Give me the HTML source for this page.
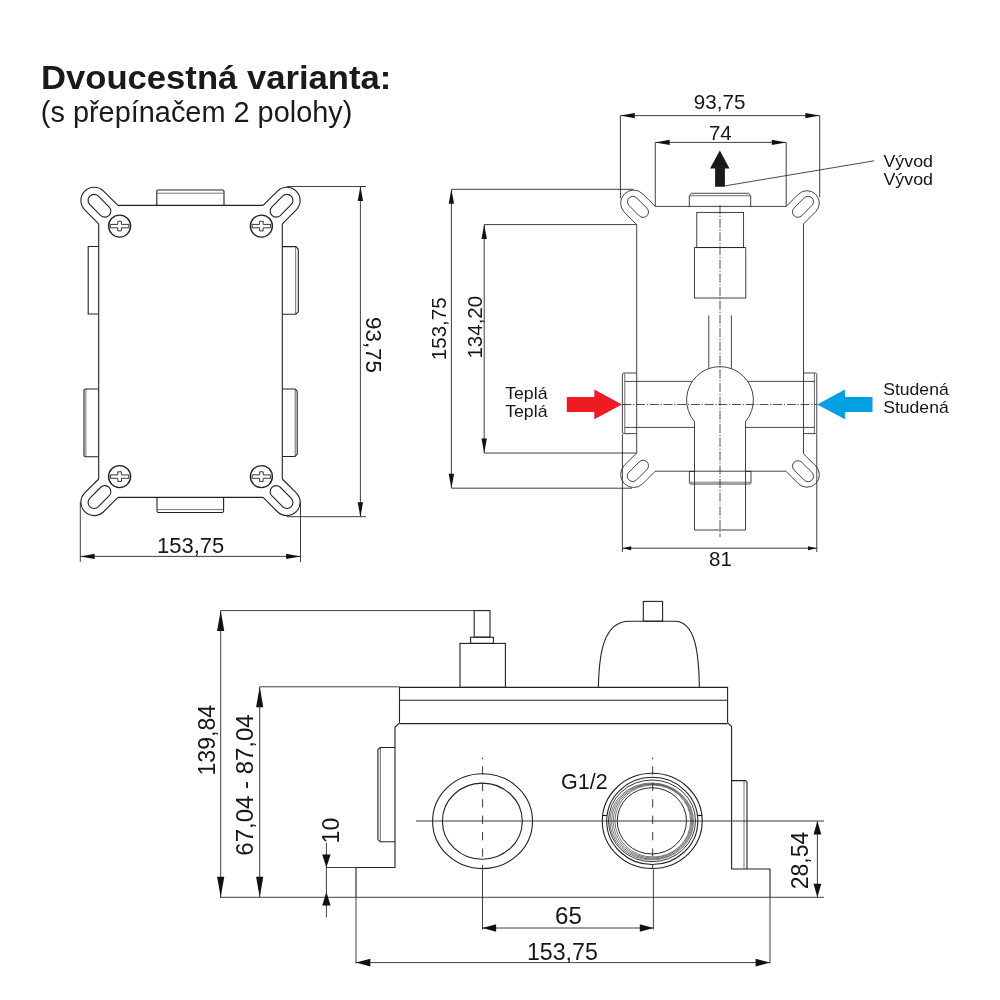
<!DOCTYPE html>
<html><head><meta charset="utf-8"><style>html,body{margin:0;padding:0;background:#fff}svg{display:block;will-change:transform}text{font-family:"Liberation Sans",sans-serif}</style></head><body><svg width="1000" height="1000" viewBox="0 0 1000 1000"><rect width="1000" height="1000" fill="#fff"/><path d="M117.91,205.40 L103.30,190.80 A13.3,13.3 0 0 0 84.50,209.60 L98.70,223.81" stroke="#222" stroke-width="1.1" fill="none" />
<path d="M98.14,195.96 A6.0,6.0 0 0 0 89.66,204.44 L100.76,215.54 A6.0,6.0 0 0 0 109.24,207.06 Z" stroke="#222" stroke-width="1.1" fill="none" />
<path d="M263.09,205.40 L277.70,190.80 A13.3,13.3 0 0 1 296.50,209.60 L282.30,223.81" stroke="#222" stroke-width="1.1" fill="none" />
<path d="M282.86,195.96 A6.0,6.0 0 0 1 291.34,204.44 L280.24,215.54 A6.0,6.0 0 0 1 271.76,207.06 Z" stroke="#222" stroke-width="1.1" fill="none" />
<path d="M117.91,497.40 L103.30,512.00 A13.3,13.3 0 0 1 84.50,493.20 L98.70,478.99" stroke="#222" stroke-width="1.1" fill="none" />
<path d="M98.14,506.84 A6.0,6.0 0 0 1 89.66,498.36 L100.76,487.26 A6.0,6.0 0 0 1 109.24,495.74 Z" stroke="#222" stroke-width="1.1" fill="none" />
<path d="M263.09,497.40 L277.70,512.00 A13.3,13.3 0 0 0 296.50,493.20 L282.30,478.99" stroke="#222" stroke-width="1.1" fill="none" />
<path d="M282.86,506.84 A6.0,6.0 0 0 0 291.34,498.36 L280.24,487.26 A6.0,6.0 0 0 0 271.76,495.74 Z" stroke="#222" stroke-width="1.1" fill="none" />
<line x1="117.91" y1="205.40" x2="263.09" y2="205.40" stroke="#222" stroke-width="1.1" />
<line x1="117.91" y1="497.40" x2="263.09" y2="497.40" stroke="#222" stroke-width="1.1" />
<line x1="98.70" y1="223.81" x2="98.70" y2="478.99" stroke="#222" stroke-width="1.1" />
<line x1="282.30" y1="223.81" x2="282.30" y2="478.99" stroke="#222" stroke-width="1.1" />
<path d="M156.8,205.4 L156.8,191.5 Q156.8,190 158.3,190 L222.5,190 Q224,190 224,191.5 L224,205.4" stroke="#222" stroke-width="1.1" fill="none" />
<line x1="157.20" y1="193.20" x2="223.60" y2="193.20" stroke="#555" stroke-width="0.8" />
<path d="M157,497.3 L157,511 Q157,512.5 158.5,512.5 L222.1,512.5 Q223.6,512.5 223.6,511 L223.6,497.3" stroke="#222" stroke-width="1.1" fill="none" />
<line x1="157.40" y1="509.60" x2="223.20" y2="509.60" stroke="#555" stroke-width="0.8" />
<path d="M98.6,246.5 L88.2,246.5 L88.2,314 L98.6,314" stroke="#222" stroke-width="1.1" fill="none" />
<path d="M98.6,389 L85.5,389 Q84,389 84,390.5 L84,455.3 Q84,456.8 85.5,456.8 L98.6,456.8" stroke="#222" stroke-width="1.1" fill="none" />
<line x1="85.90" y1="389.40" x2="85.90" y2="456.40" stroke="#555" stroke-width="0.8" />
<path d="M282.3,246.6 L295.8,246.6 L298.3,249 L298.3,311.8 L295.8,314.2 L282.3,314.2" stroke="#222" stroke-width="1.1" fill="none" />
<line x1="295.70" y1="247.00" x2="295.70" y2="313.80" stroke="#444" stroke-width="0.8" />
<path d="M282.3,389 L295,389 L297.2,391.2 L297.2,454.3 L295,456.5 L282.3,456.5" stroke="#222" stroke-width="1.1" fill="none" />
<line x1="295.20" y1="389.40" x2="295.20" y2="456.10" stroke="#444" stroke-width="0.8" />
<circle cx="119.6" cy="226.1" r="11" stroke="#222" stroke-width="1.4" fill="none"/>
<path d="M110.39999999999999,224.4 L117.8,224.4 L117.8,221.29999999999998 L121.39999999999999,221.29999999999998 L121.39999999999999,224.4 L128.79999999999998,224.4 L128.79999999999998,227.79999999999998 L121.39999999999999,227.79999999999998 L121.39999999999999,230.9 L117.8,230.9 L117.8,227.79999999999998 L110.39999999999999,227.79999999999998 Z" stroke="#222" stroke-width="0.9" fill="none" />
<circle cx="119.6" cy="476.6" r="11" stroke="#222" stroke-width="1.4" fill="none"/>
<path d="M110.39999999999999,474.90000000000003 L117.8,474.90000000000003 L117.8,471.8 L121.39999999999999,471.8 L121.39999999999999,474.90000000000003 L128.79999999999998,474.90000000000003 L128.79999999999998,478.3 L121.39999999999999,478.3 L121.39999999999999,481.40000000000003 L117.8,481.40000000000003 L117.8,478.3 L110.39999999999999,478.3 Z" stroke="#222" stroke-width="0.9" fill="none" />
<circle cx="261.4" cy="226.1" r="11" stroke="#222" stroke-width="1.4" fill="none"/>
<path d="M252.2,224.4 L259.59999999999997,224.4 L259.59999999999997,221.29999999999998 L263.2,221.29999999999998 L263.2,224.4 L270.59999999999997,224.4 L270.59999999999997,227.79999999999998 L263.2,227.79999999999998 L263.2,230.9 L259.59999999999997,230.9 L259.59999999999997,227.79999999999998 L252.2,227.79999999999998 Z" stroke="#222" stroke-width="0.9" fill="none" />
<circle cx="261.4" cy="476.6" r="11" stroke="#222" stroke-width="1.4" fill="none"/>
<path d="M252.2,474.90000000000003 L259.59999999999997,474.90000000000003 L259.59999999999997,471.8 L263.2,471.8 L263.2,474.90000000000003 L270.59999999999997,474.90000000000003 L270.59999999999997,478.3 L263.2,478.3 L263.2,481.40000000000003 L259.59999999999997,481.40000000000003 L259.59999999999997,478.3 L252.2,478.3 Z" stroke="#222" stroke-width="0.9" fill="none" />
<line x1="287.00" y1="186.50" x2="366.00" y2="186.50" stroke="#2a2a2a" stroke-width="0.9" />
<line x1="287.00" y1="516.70" x2="366.00" y2="516.70" stroke="#2a2a2a" stroke-width="0.9" />
<line x1="360.40" y1="186.50" x2="360.40" y2="516.70" stroke="#2a2a2a" stroke-width="0.9" />
<polygon points="360.40,186.50 357.70,200.90 363.10,200.90" fill="#111"/>
<polygon points="360.40,516.70 357.70,502.30 363.10,502.30" fill="#111"/>
<text x="366.40" y="345.00" font-size="22.8" text-anchor="middle" font-weight="normal" fill="#161616" transform="rotate(90 366.40 345.00)" textLength="56.05" lengthAdjust="spacingAndGlyphs">93,75</text>
<line x1="80.30" y1="502.00" x2="80.30" y2="562.00" stroke="#2a2a2a" stroke-width="0.9" />
<line x1="300.50" y1="502.00" x2="300.50" y2="562.00" stroke="#2a2a2a" stroke-width="0.9" />
<line x1="80.30" y1="556.40" x2="300.50" y2="556.40" stroke="#2a2a2a" stroke-width="0.9" />
<polygon points="80.30,556.40 94.70,553.70 94.70,559.10" fill="#111"/>
<polygon points="300.50,556.40 286.10,553.70 286.10,559.10" fill="#111"/>
<text x="190.60" y="553.30" font-size="22.5" text-anchor="middle" font-weight="normal" fill="#161616" textLength="67.29" lengthAdjust="spacingAndGlyphs">153,75</text>
<path d="M655.28,206.40 L642.59,193.71 A13.0,13.0 0 0 0 624.21,212.09 L636.70,224.58" stroke="#222" stroke-width="0.85" fill="none" />
<path d="M636.72,197.98 A5.4,5.4 0 0 0 629.08,205.62 L639.28,215.82 A5.4,5.4 0 0 0 646.92,208.18 Z" stroke="#222" stroke-width="0.85" fill="none" />
<path d="M786.21,206.40 L798.30,194.30 A12.3,12.3 0 0 1 815.70,211.70 L803.50,223.89" stroke="#222" stroke-width="0.85" fill="none" />
<path d="M804.28,197.88 A5.4,5.4 0 0 1 811.92,205.52 L801.72,215.72 A5.4,5.4 0 0 1 794.08,208.08 Z" stroke="#222" stroke-width="0.85" fill="none" />
<path d="M655.28,471.20 L642.59,483.89 A13.0,13.0 0 0 1 624.21,465.51 L636.70,453.02" stroke="#222" stroke-width="0.85" fill="none" />
<path d="M636.52,479.92 A5.4,5.4 0 0 1 628.88,472.28 L639.28,461.88 A5.4,5.4 0 0 1 646.92,469.52 Z" stroke="#222" stroke-width="0.85" fill="none" />
<path d="M785.86,471.20 L798.23,483.57 A12.4,12.4 0 0 0 815.77,466.03 L803.50,453.76" stroke="#222" stroke-width="0.85" fill="none" />
<path d="M804.28,480.12 A5.4,5.4 0 0 0 811.92,472.48 L801.72,462.28 A5.4,5.4 0 0 0 794.08,469.92 Z" stroke="#222" stroke-width="0.85" fill="none" />
<line x1="655.28" y1="206.40" x2="786.21" y2="206.40" stroke="#222" stroke-width="0.85" />
<line x1="655.28" y1="471.20" x2="785.86" y2="471.20" stroke="#222" stroke-width="0.85" />
<line x1="636.70" y1="224.58" x2="636.70" y2="453.02" stroke="#222" stroke-width="0.85" />
<line x1="803.50" y1="223.89" x2="803.50" y2="453.76" stroke="#222" stroke-width="0.85" />
<path d="M689.3,206.4 L689.3,195.4 L691.5,193.3 L748.5,193.3 L750.7,195.4 L750.7,206.4" stroke="#222" stroke-width="0.85" fill="none" />
<line x1="689.80" y1="195.70" x2="750.20" y2="195.70" stroke="#444" stroke-width="0.8" />
<rect x="696.80" y="212.40" width="46.80" height="35.20" rx="0" stroke="#222" stroke-width="0.85" fill="none"/>
<rect x="694.40" y="247.60" width="51.40" height="50.40" rx="0" stroke="#222" stroke-width="0.85" fill="none"/>
<line x1="708.80" y1="315.50" x2="708.80" y2="368.50" stroke="#222" stroke-width="0.85" />
<line x1="731.40" y1="315.50" x2="731.40" y2="368.50" stroke="#222" stroke-width="0.85" />
<path d="M636.5,373 L624,373 Q622.4,373 622.4,374.6 L622.4,432 Q622.4,433.6 624,433.6 L636.5,433.6" stroke="#222" stroke-width="0.85" fill="none" />
<line x1="624.80" y1="373.40" x2="624.80" y2="433.20" stroke="#444" stroke-width="0.8" />
<path d="M803.4,373 L815.2,373 Q816.8,373 816.8,374.6 L816.8,432 Q816.8,433.6 815.2,433.6 L803.4,433.6" stroke="#222" stroke-width="0.85" fill="none" />
<line x1="814.40" y1="373.40" x2="814.40" y2="433.20" stroke="#444" stroke-width="0.8" />
<line x1="624.80" y1="381.40" x2="692.26" y2="381.40" stroke="#333" stroke-width="0.9" />
<line x1="747.74" y1="381.40" x2="814.40" y2="381.40" stroke="#333" stroke-width="0.9" />
<line x1="624.80" y1="427.40" x2="694.60" y2="427.40" stroke="#333" stroke-width="0.9" />
<line x1="745.60" y1="427.40" x2="814.40" y2="427.40" stroke="#333" stroke-width="0.9" />
<path d="M694.5,530 L694.5,421.57 A33.4,33.4 0 1 1 745.5,421.57 L745.5,530 Z" stroke="#222" stroke-width="0.85" fill="none" />
<path d="M694.5,471.4 L689.4,471.4 L689.4,482.5 Q689.4,484 690.9,484 L749.5,484 Q751,484 751,482.5 L751,471.4 L745.5,471.4" stroke="#222" stroke-width="0.85" fill="none" />
<line x1="689.80" y1="482.20" x2="750.60" y2="482.20" stroke="#555" stroke-width="0.8" />
<line x1="720.00" y1="205.00" x2="720.00" y2="537.00" stroke="#222" stroke-width="0.8" stroke-dasharray="9 1.7 1.3 1.7"/>
<line x1="622.40" y1="404.50" x2="816.80" y2="404.50" stroke="#222" stroke-width="0.8" stroke-dasharray="9 1.7 1.3 1.7"/>
<line x1="620.40" y1="115.60" x2="819.70" y2="115.60" stroke="#2a2a2a" stroke-width="0.9" />
<polygon points="620.40,115.60 634.80,112.90 634.80,118.30" fill="#111"/>
<polygon points="819.70,115.60 805.30,112.90 805.30,118.30" fill="#111"/>
<line x1="620.40" y1="115.60" x2="620.40" y2="198.00" stroke="#2a2a2a" stroke-width="0.9" />
<line x1="819.70" y1="115.60" x2="819.70" y2="197.00" stroke="#2a2a2a" stroke-width="0.9" />
<line x1="655.28" y1="142.40" x2="786.21" y2="142.40" stroke="#2a2a2a" stroke-width="0.9" />
<polygon points="655.28,142.40 669.68,139.70 669.68,145.10" fill="#111"/>
<polygon points="786.21,142.40 771.81,139.70 771.81,145.10" fill="#111"/>
<line x1="655.28" y1="142.40" x2="655.28" y2="206.40" stroke="#2a2a2a" stroke-width="0.9" />
<line x1="786.21" y1="142.40" x2="786.21" y2="206.40" stroke="#2a2a2a" stroke-width="0.9" />
<text x="719.60" y="109.30" font-size="21" text-anchor="middle" font-weight="normal" fill="#161616" textLength="51.55" lengthAdjust="spacingAndGlyphs">93,75</text>
<text x="720.30" y="139.50" font-size="21" text-anchor="middle" font-weight="normal" fill="#161616" textLength="22.8" lengthAdjust="spacingAndGlyphs">74</text>
<polygon points="719.8,150.6 729.5,168.6 724.9,168.6 724.9,186.7 715.1,186.7 715.1,168.6 710,168.6" fill="#1a1a1a"/>
<line x1="724.90" y1="185.90" x2="874.20" y2="160.80" stroke="#2a2a2a" stroke-width="0.85" />
<line x1="451.40" y1="189.30" x2="633.50" y2="189.30" stroke="#2a2a2a" stroke-width="0.9" />
<line x1="451.40" y1="488.20" x2="632.00" y2="488.20" stroke="#2a2a2a" stroke-width="0.9" />
<line x1="451.40" y1="189.30" x2="451.40" y2="488.20" stroke="#2a2a2a" stroke-width="0.9" />
<polygon points="451.40,189.30 448.70,203.70 454.10,203.70" fill="#111"/>
<polygon points="451.40,488.20 448.70,473.80 454.10,473.80" fill="#111"/>
<line x1="484.20" y1="224.58" x2="636.50" y2="224.58" stroke="#2a2a2a" stroke-width="0.9" />
<line x1="484.20" y1="453.02" x2="636.50" y2="453.02" stroke="#2a2a2a" stroke-width="0.9" />
<line x1="484.20" y1="224.58" x2="484.20" y2="453.02" stroke="#2a2a2a" stroke-width="0.9" />
<polygon points="484.20,224.58 481.50,238.98 486.90,238.98" fill="#111"/>
<polygon points="484.20,453.02 481.50,438.62 486.90,438.62" fill="#111"/>
<text x="445.70" y="328.80" font-size="21" text-anchor="middle" font-weight="normal" fill="#161616" transform="rotate(-90 445.70 328.80)" textLength="62.7" lengthAdjust="spacingAndGlyphs">153,75</text>
<text x="481.70" y="327.20" font-size="21" text-anchor="middle" font-weight="normal" fill="#161616" transform="rotate(-90 481.70 327.20)" textLength="62.7" lengthAdjust="spacingAndGlyphs">134,20</text>
<line x1="622.40" y1="434.50" x2="622.40" y2="552.00" stroke="#2a2a2a" stroke-width="0.9" />
<line x1="816.80" y1="433.60" x2="816.80" y2="552.00" stroke="#2a2a2a" stroke-width="0.9" />
<line x1="622.40" y1="548.20" x2="816.80" y2="548.20" stroke="#2a2a2a" stroke-width="0.9" />
<polygon points="622.40,548.20 631.20,546.20 631.20,550.20" fill="#111"/>
<polygon points="816.80,548.20 808.00,546.20 808.00,550.20" fill="#111"/>
<text x="720.40" y="565.80" font-size="21" text-anchor="middle" font-weight="normal" fill="#161616" textLength="22.8" lengthAdjust="spacingAndGlyphs">81</text>
<polygon points="622,404.4 594.3,389.5 594.3,397 566.8,397 566.8,412 594.3,412 594.3,419.3" fill="#ed1c24"/>
<polygon points="817.2,404.4 845,389.5 845,397 872.5,397 872.5,412 845,412 845,419.3" fill="#00a0e3"/>
<text x="505.20" y="398.80" font-size="17" text-anchor="start" font-weight="normal" fill="#161616" textLength="42.3" lengthAdjust="spacingAndGlyphs">Teplá</text>
<text x="505.20" y="416.80" font-size="17" text-anchor="start" font-weight="normal" fill="#161616" textLength="42.3" lengthAdjust="spacingAndGlyphs">Teplá</text>
<text x="883.20" y="395.00" font-size="17" text-anchor="start" font-weight="normal" fill="#161616" textLength="65.5" lengthAdjust="spacingAndGlyphs">Studená</text>
<text x="883.20" y="413.00" font-size="17" text-anchor="start" font-weight="normal" fill="#161616" textLength="65.5" lengthAdjust="spacingAndGlyphs">Studená</text>
<text x="883.40" y="167.00" font-size="17" text-anchor="start" font-weight="normal" fill="#161616" textLength="49.6" lengthAdjust="spacingAndGlyphs">Vývod</text>
<text x="883.40" y="185.00" font-size="17" text-anchor="start" font-weight="normal" fill="#161616" textLength="49.6" lengthAdjust="spacingAndGlyphs">Vývod</text>
<rect x="474.20" y="610.60" width="15.80" height="26.60" rx="0" stroke="#222" stroke-width="1.1" fill="none"/>
<rect x="470.60" y="637.20" width="22.80" height="6.20" rx="0" stroke="#222" stroke-width="1.1" fill="none"/>
<rect x="460.00" y="643.40" width="45.40" height="44.00" rx="0" stroke="#222" stroke-width="1.1" fill="none"/>
<path d="M598.4,687.4 C599,655 603,621.2 629.2,621.2 L674.7,621.2 C696,621.2 698.8,655 699.4,687.4" stroke="#222" stroke-width="1.1" fill="none" />
<rect x="643.30" y="601.40" width="19.30" height="19.80" rx="0" stroke="#222" stroke-width="1.1" fill="none"/>
<path d="M399.5,722.8 L399.5,687.4 L727.6,687.4 L727.6,722.8" stroke="#222" stroke-width="1.1" fill="none" />
<line x1="399.50" y1="700.20" x2="727.60" y2="700.20" stroke="#222" stroke-width="1.1" />
<path d="M399.5,722.8 L395,727 L395,867.5 L356,867.5 L356,897.3" stroke="#222" stroke-width="1.1" fill="none" />
<path d="M727.6,722.8 L731.6,726.6 L731.6,869 L770,869 L770,897.3" stroke="#222" stroke-width="1.1" fill="none" />
<line x1="399.50" y1="723.60" x2="727.60" y2="723.60" stroke="#222" stroke-width="1.1" />
<path d="M395,747.5 L380.2,747.5 L377.9,749.8 L377.9,839.6 L380.2,841.8 L395,841.8" stroke="#222" stroke-width="1.1" fill="none" />
<line x1="380.30" y1="747.90" x2="380.30" y2="841.40" stroke="#444" stroke-width="0.8" />
<path d="M731.6,780.6 L745.4,780.6 L747,782.2 L747,869" stroke="#222" stroke-width="1.1" fill="none" />
<line x1="744.00" y1="781.00" x2="744.00" y2="869.00" stroke="#555" stroke-width="0.8" />
<ellipse cx="482.55" cy="821.15" rx="49.95" ry="47.45" stroke="#222" stroke-width="1.1" fill="none"/>
<ellipse cx="482.35" cy="821.15" rx="39.95" ry="38.05" stroke="#222" stroke-width="1.1" fill="none"/>
<ellipse cx="652.25" cy="820.90" rx="49.95" ry="47.60" stroke="#222" stroke-width="1.1" fill="none"/>
<ellipse cx="652.25" cy="820.90" rx="45.55" ry="43.60" stroke="#222" stroke-width="1.1" fill="none"/>
<ellipse cx="652.00" cy="820.85" rx="43.50" ry="40.85" stroke="#222" stroke-width="0.9" fill="none"/>
<ellipse cx="651.75" cy="821.50" rx="41.85" ry="38.50" stroke="#333" stroke-width="0.65" fill="none"/>
<ellipse cx="652.05" cy="821.35" rx="40.55" ry="37.65" stroke="#333" stroke-width="0.65" fill="none"/>
<ellipse cx="652.40" cy="821.15" rx="39.20" ry="36.85" stroke="#333" stroke-width="0.65" fill="none"/>
<ellipse cx="652.80" cy="821.00" rx="37.80" ry="36.00" stroke="#333" stroke-width="0.65" fill="none"/>
<ellipse cx="651.85" cy="820.85" rx="34.65" ry="33.15" stroke="#262626" stroke-width="1.0" fill="none"/>
<line x1="602.30" y1="815.50" x2="606.70" y2="815.50" stroke="#111" stroke-width="1.1" />
<line x1="697.80" y1="815.50" x2="702.20" y2="815.50" stroke="#111" stroke-width="1.1" />
<line x1="482.60" y1="757.60" x2="482.60" y2="759.20" stroke="#222" stroke-width="0.9" />
<line x1="482.60" y1="766.40" x2="482.60" y2="869.00" stroke="#222" stroke-width="0.9" stroke-dasharray="8.3 8.1"/>
<line x1="652.70" y1="757.60" x2="652.70" y2="759.20" stroke="#222" stroke-width="0.9" />
<line x1="652.70" y1="766.40" x2="652.70" y2="869.00" stroke="#222" stroke-width="0.9" stroke-dasharray="8.3 8.1"/>
<line x1="416.00" y1="821.00" x2="824.00" y2="821.00" stroke="#222" stroke-width="0.9" />
<line x1="220.00" y1="897.30" x2="824.00" y2="897.30" stroke="#2a2a2a" stroke-width="0.9" />
<line x1="326.40" y1="867.50" x2="356.00" y2="867.50" stroke="#2a2a2a" stroke-width="0.9" />
<line x1="220.70" y1="610.60" x2="474.20" y2="610.60" stroke="#2a2a2a" stroke-width="0.9" />
<line x1="259.70" y1="686.80" x2="399.50" y2="686.80" stroke="#2a2a2a" stroke-width="0.9" />
<line x1="220.70" y1="610.60" x2="220.70" y2="897.30" stroke="#2a2a2a" stroke-width="0.9" />
<polygon points="220.70,610.60 217.10,631.10 224.30,631.10" fill="#111"/>
<polygon points="220.70,897.30 217.10,876.80 224.30,876.80" fill="#111"/>
<line x1="259.70" y1="686.80" x2="259.70" y2="897.30" stroke="#2a2a2a" stroke-width="0.9" />
<polygon points="259.70,686.80 256.10,707.30 263.30,707.30" fill="#111"/>
<polygon points="259.70,897.30 256.10,876.80 263.30,876.80" fill="#111"/>
<text x="214.90" y="740.20" font-size="23.5" text-anchor="middle" font-weight="normal" fill="#161616" transform="rotate(-90 214.90 740.20)" textLength="70.65" lengthAdjust="spacingAndGlyphs">139,84</text>
<text x="253.10" y="785.00" font-size="23.5" text-anchor="middle" font-weight="normal" fill="#161616" transform="rotate(-90 253.10 785.00)" textLength="141.4" lengthAdjust="spacingAndGlyphs">67,04 - 87,04</text>
<line x1="326.40" y1="843.00" x2="326.40" y2="917.50" stroke="#2a2a2a" stroke-width="0.9" />
<polygon points="326.40,867.60 322.20,854.40 330.60,854.40" fill="#111"/>
<polygon points="326.40,891.90 322.20,905.50 330.60,905.50" fill="#111"/>
<text x="338.60" y="830.60" font-size="23.5" text-anchor="middle" font-weight="normal" fill="#161616" transform="rotate(-90 338.60 830.60)" textLength="25.58" lengthAdjust="spacingAndGlyphs">10</text>
<line x1="482.50" y1="869.50" x2="482.50" y2="929.50" stroke="#2a2a2a" stroke-width="0.9" />
<line x1="653.40" y1="869.50" x2="653.40" y2="929.50" stroke="#2a2a2a" stroke-width="0.9" />
<line x1="482.50" y1="928.00" x2="653.40" y2="928.00" stroke="#2a2a2a" stroke-width="0.9" />
<polygon points="482.50,928.00 496.10,924.20 496.10,931.80" fill="#111"/>
<polygon points="653.40,928.00 639.80,924.20 639.80,931.80" fill="#111"/>
<text x="568.40" y="923.80" font-size="23.5" text-anchor="middle" font-weight="normal" fill="#161616" textLength="26.8" lengthAdjust="spacingAndGlyphs">65</text>
<line x1="356.00" y1="897.30" x2="356.00" y2="963.50" stroke="#2a2a2a" stroke-width="0.9" />
<line x1="770.00" y1="897.30" x2="770.00" y2="963.50" stroke="#2a2a2a" stroke-width="0.9" />
<line x1="356.00" y1="962.60" x2="770.00" y2="962.60" stroke="#2a2a2a" stroke-width="0.9" />
<polygon points="356.00,962.60 370.40,958.75 370.40,966.45" fill="#111"/>
<polygon points="770.00,962.60 755.60,958.75 755.60,966.45" fill="#111"/>
<text x="562.40" y="959.80" font-size="23.5" text-anchor="middle" font-weight="normal" fill="#161616" textLength="70.96" lengthAdjust="spacingAndGlyphs">153,75</text>
<line x1="817.40" y1="821.00" x2="817.40" y2="897.30" stroke="#2a2a2a" stroke-width="0.9" />
<polygon points="817.40,821.00 813.50,834.50 821.30,834.50" fill="#111"/>
<polygon points="817.40,897.30 813.50,883.80 821.30,883.80" fill="#111"/>
<text x="807.60" y="860.50" font-size="23.5" text-anchor="middle" font-weight="normal" fill="#161616" transform="rotate(-90 807.60 860.50)" textLength="57.56" lengthAdjust="spacingAndGlyphs">28,54</text>
<text x="561.00" y="789.00" font-size="21.5" text-anchor="start" font-weight="normal" fill="#161616">G1/2</text>
<text x="41.00" y="88.80" font-size="34" text-anchor="start" font-weight="bold" fill="#1a1a1a" textLength="350.3" lengthAdjust="spacingAndGlyphs">Dvoucestná varianta:</text>
<text x="40.80" y="122.00" font-size="29" text-anchor="start" font-weight="normal" fill="#1a1a1a" textLength="311.6" lengthAdjust="spacingAndGlyphs">(s přepínačem 2 polohy)</text></svg></body></html>
